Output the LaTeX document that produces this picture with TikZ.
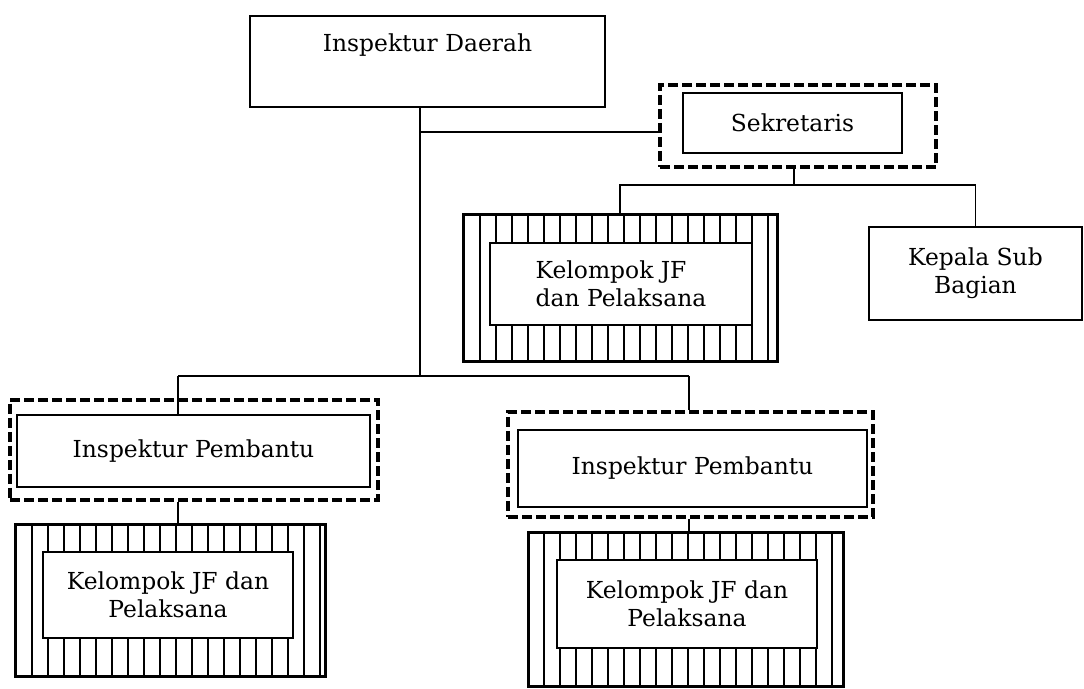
\documentclass[tikz,border=0pt]{standalone}
\usepackage{fontspec}
\setmainfont{DejaVu Serif}
\usetikzlibrary{patterns.meta}

\tikzset{
  unitbox/.style={draw, fill=white, line width=1.4pt, inner sep=2pt, align=center,
    font=\fontsize{11.7}{14}\selectfont},
  dashframe/.style={draw, line width=1.8pt, dash pattern=on 5pt off 2pt},
  hatchframe/.style={draw, line width=1.5pt,
    pattern={Lines[angle=90,distance=8pt,line width=1.2pt]}},
  link/.style={line width=0.9pt},
}

\begin{document}
\begin{tikzpicture}[x=0.5pt,y=-0.5pt]
  \useasboundingbox (0,0) rectangle (1084,689);

  % frames
  \node[dashframe, minimum width=138pt, minimum height=41pt] (sekout) at (798,126) {};
  \node[hatchframe, minimum width=157pt, minimum height=73.5pt] (kjfout1) at (620,288.5) {};
  \node[dashframe, minimum width=184pt, minimum height=50pt] (ipout1) at (194,450) {};
  \node[dashframe, minimum width=182.5pt, minimum height=52.5pt] (ipout2) at (690.5,464.5) {};
  \node[hatchframe, minimum width=155pt, minimum height=76pt] (kjfout2) at (170,601) {};
  \node[hatchframe, minimum width=157.5pt, minimum height=77pt] (kjfout3) at (685.5,610) {};

  % units
  \node[unitbox, minimum width=177.5pt, minimum height=45.5pt,
    label={[anchor=north, yshift=-6pt, font=\fontsize{11.7}{14}\selectfont]north:Inspektur Daerah}]
    (daerah) at (427.5,61.5) {};
  \node[unitbox, minimum width=109.5pt, minimum height=30pt] (sek) at (792.5,123) {Sekretaris};
  \node[unitbox, align=left, minimum width=131pt, minimum height=41pt] (kjf1) at (621,284)
    {Kelompok JF\\dan Pelaksana};
  \node[unitbox, minimum width=106.5pt, minimum height=46.5pt] (kasub) at (975.5,273.5)
    {Kepala Sub\\Bagian};
  \node[unitbox, minimum width=176.5pt, minimum height=36pt] (ip1) at (193.5,451) {Inspektur Pembantu};
  \node[unitbox, minimum width=174.5pt, minimum height=38.5pt] (ip2) at (692.5,468.5) {Inspektur Pembantu};
  \node[unitbox, minimum width=125pt, minimum height=43pt] (kjf2) at (168,595)
    {Kelompok JF dan\\Pelaksana};
  \node[unitbox, minimum width=130pt, minimum height=44pt] (kjf3) at (687,604)
    {Kelompok JF dan\\Pelaksana};

  % lines
  \coordinate (jA) at (420,132);
  \coordinate (jB) at (420,376);
  \coordinate (jC) at (794,185);
  \coordinate (jL) at (178,376);
  \coordinate (jR) at (689,376);
  \draw[link] (daerah.south -| jB) -- (jB);
  \draw[link] (jA) -- (sekout.west |- jA);
  \draw[link] (sekout.south -| jC) -- (jC);
  \draw[link] (kjfout1.north) |- (jC) -| (kasub.north);
  \draw[link] (jL) -- (jR);
  \draw[link] (jL) -- (jL |- ip1.north);
  \draw[link] (jR) -- (jR |- ipout2.north);
  \draw[link] (jL |- ipout1.south) -- (jL |- kjfout2.north);
  \draw[link] (jR |- ipout2.south) -- (jR |- kjfout3.north);
\end{tikzpicture}
\end{document}
